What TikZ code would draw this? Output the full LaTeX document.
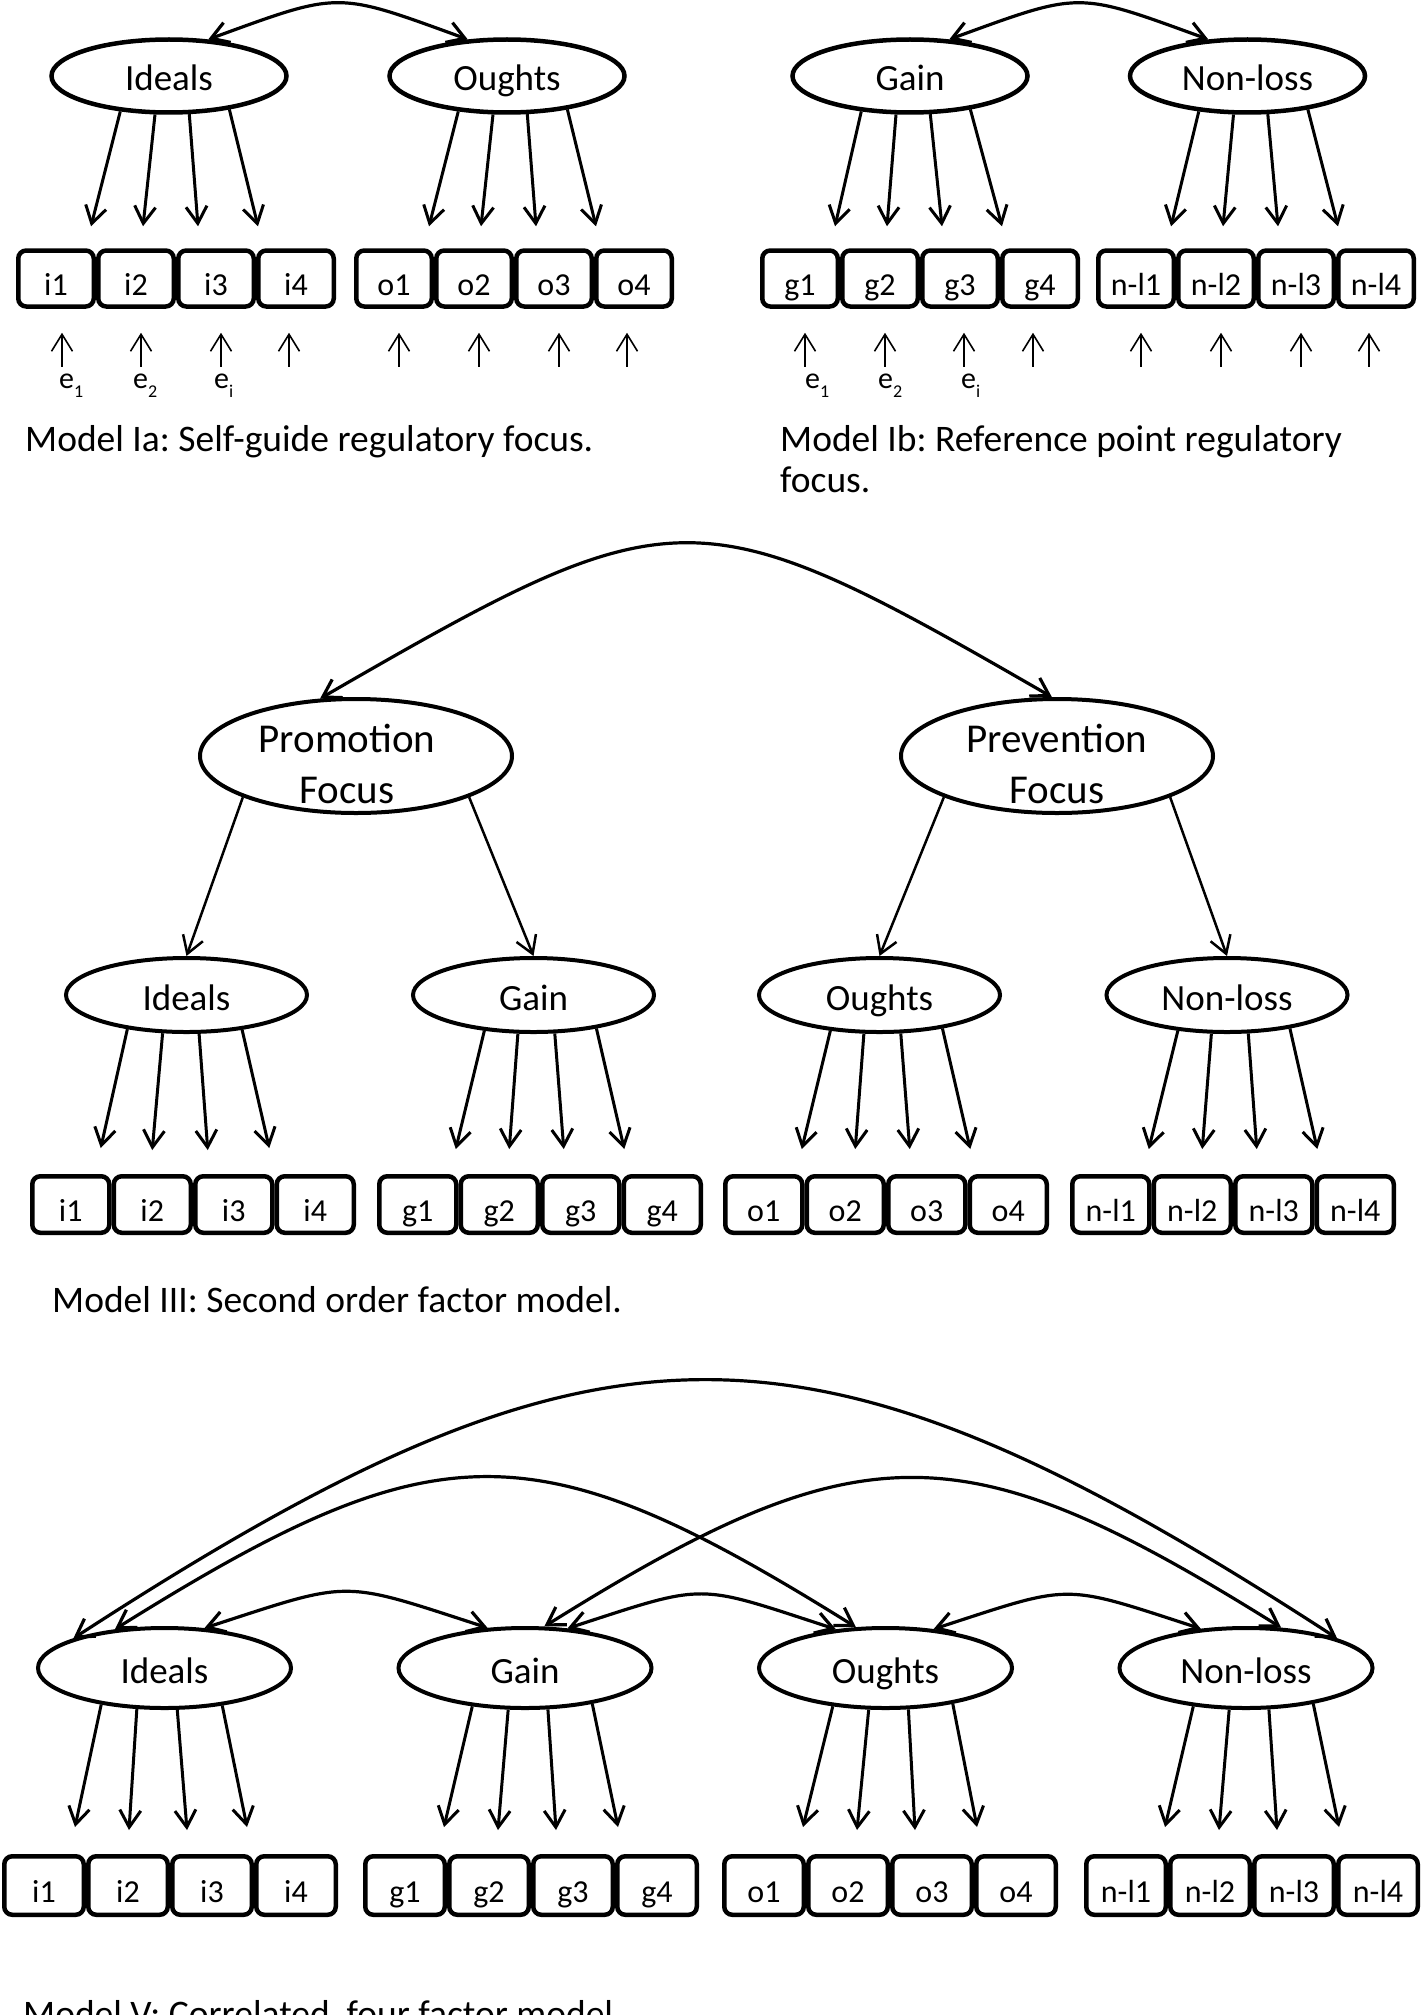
\documentclass[tikz,border=0pt]{standalone}
\usepackage{fontspec}
\setmainfont{Carlito}
\usetikzlibrary{arrows.meta, calc, positioning, shapes.geometric}
\newcommand{\facfont}{\fontsize{37}{44}\selectfont}
\newcommand{\topfont}{\fontsize{41}{51.6}\selectfont}
\newcommand{\itemfont}{\fontsize{32}{40}\selectfont}
\newcommand{\capfont}{\fontsize{37.5}{41}\selectfont}
\newcommand{\errfont}{\fontsize{30}{36}\selectfont}
\newcommand{\esub}[1]{e\raisebox{-9pt}{\fontsize{18}{20}\selectfont #1}}
\newcommand{\drawl}{\draw[load]}
\newcommand{\drawr}{\draw[err]}
\tikzset{
  fac/.style={draw, ellipse, line width=4.5pt, inner sep=0pt, font=\facfont, text height=30pt, text depth=0pt},
  facA/.style={fac, minimum width=235pt, minimum height=73pt},
  facC/.style={fac, line width=4pt, minimum width=241pt, minimum height=74pt},
  facS/.style={fac, line width=4pt, minimum width=312pt, minimum height=114pt},
  facE/.style={fac, line width=4pt, minimum width=253pt, minimum height=80pt},
  ind/.style={draw, rectangle, rounded corners=8pt, line width=4.5pt, inner sep=0pt, font=\itemfont, text height=34pt, text depth=0pt},
  indA/.style={ind, minimum width=75.5pt, minimum height=56pt},
  indC/.style={ind, minimum width=77pt, minimum height=56.5pt},
  indE/.style={ind, minimum width=79.5pt, minimum height=58.5pt},
  load/.style={->, line width=3pt},
  load2/.style={->, line width=2.5pt},
  corr/.style={<->, line width=3.2pt},
  err/.style={->, line width=1.6pt},
  capt/.style={font=\capfont, anchor=base west, inner sep=0pt},
  elab/.style={font=\errfont, anchor=base west, inner sep=0pt}
}

\begin{document}
\frenchspacing
\begin{tikzpicture}[x=1pt, y=-1pt, >={Straight Barb[length=17pt,width=21pt]}]
\clip (0,0) rectangle (1423,2015);

%Model Ia
\node[facA] (aI) at (169,76) {Ideals};
\node[facA] (aO) at (507,76) {Oughts};
\draw[corr] (aI.43) to[out=20, in=160, looseness=1.4] (aO.137);
\node[indA] (ai1) at (56,278.5) {i1};
\node[indA, right=0pt of ai1] (ai2) {i2};
\node[indA, right=0pt of ai2] (ai3) {i3};
\node[indA, right=0pt of ai3] (ai4) {i4};
\node[indA] (ao1) at (394,278.5) {o1};
\node[indA, right=0pt of ao1] (ao2) {o2};
\node[indA, right=0pt of ao2] (ao3) {o3};
\node[indA, right=0pt of ao3] (ao4) {o4};
\drawl (aI.216) -- ($(ai1.north)+(35,-22)$);
\drawl (aI.250) -- ($(ai2.north)+(7,-22)$);
\drawl (aI.298) -- ($(ai3.north)+(-18,-22)$);
\drawl (aI.331) -- ($(ai4.north)+(-38,-22)$);
\drawl (aO.216) -- ($(ao1.north)+(35,-22)$);
\drawl (aO.250) -- ($(ao2.north)+(7,-22)$);
\drawl (aO.298) -- ($(ao3.north)+(-18,-22)$);
\drawl (aO.331) -- ($(ao4.north)+(-38,-22)$);
% error terms
\drawr ($(ai1.south)+(6,58)$) -- ($(ai1.south)+(6,24)$);
\drawr ($(ai2.south)+(5,58)$) -- ($(ai2.south)+(5,24)$);
\drawr ($(ai3.south)+(5,58)$) -- ($(ai3.south)+(5,24)$);
\drawr ($(ai4.south)+(-7,58)$) -- ($(ai4.south)+(-7,24)$);
\drawr ($(ao1.south)+(5,58)$) -- ($(ao1.south)+(5,24)$);
\drawr ($(ao2.south)+(5,58)$) -- ($(ao2.south)+(5,24)$);
\drawr ($(ao3.south)+(5,58)$) -- ($(ao3.south)+(5,24)$);
\drawr ($(ao4.south)+(-7,58)$) -- ($(ao4.south)+(-7,24)$);
\node[elab] (ae1) at ($(ai1.south)+(3,80)$) {\esub{1}};
\node[elab] (ae2) at ($(ai2.south)+(-3,80)$) {\esub{2}};
\node[elab] (aei) at ($(ai3.south)+(-2,80)$) {\esub{i}};
\node[capt] (capa) at (25,451.5) {Model Ia: Self-guide regulatory focus.};

%Model Ib
\node[facA] (bG) at (910,76) {Gain};
\node[facA] (bN) at (1247.5,76) {Non-loss};
\draw[corr] (bG.43) to[out=20, in=160, looseness=1.4] (bN.137);
\node[indA] (bg1) at (800,278.5) {g1};
\node[indA, right=0pt of bg1] (bg2) {g2};
\node[indA, right=0pt of bg2] (bg3) {g3};
\node[indA, right=0pt of bg3] (bg4) {g4};
\node[indA] (bn1) at (1136,278.5) {n-l1};
\node[indA, right=0pt of bn1] (bn2) {n-l2};
\node[indA, right=0pt of bn2] (bn3) {n-l3};
\node[indA, right=0pt of bn3] (bn4) {n-l4};
\drawl (bG.216) -- ($(bg1.north)+(35,-22)$);
\drawl (bG.250) -- ($(bg2.north)+(7,-22)$);
\drawl (bG.298) -- ($(bg3.north)+(-18,-22)$);
\drawl (bG.331) -- ($(bg4.north)+(-38,-22)$);
\drawl (bN.216) -- ($(bn1.north)+(35,-22)$);
\drawl (bN.250) -- ($(bn2.north)+(7,-22)$);
\drawl (bN.298) -- ($(bn3.north)+(-18,-22)$);
\drawl (bN.331) -- ($(bn4.north)+(-38,-22)$);
% error terms
\drawr ($(bg1.south)+(5,58)$) -- ($(bg1.south)+(5,24)$);
\drawr ($(bg2.south)+(5,58)$) -- ($(bg2.south)+(5,24)$);
\drawr ($(bg3.south)+(4,58)$) -- ($(bg3.south)+(4,24)$);
\drawr ($(bg4.south)+(-7,58)$) -- ($(bg4.south)+(-7,24)$);
\drawr ($(bn1.south)+(5,58)$) -- ($(bn1.south)+(5,24)$);
\drawr ($(bn2.south)+(5,58)$) -- ($(bn2.south)+(5,24)$);
\drawr ($(bn3.south)+(5,58)$) -- ($(bn3.south)+(5,24)$);
\drawr ($(bn4.south)+(-7,58)$) -- ($(bn4.south)+(-7,24)$);
\node[elab] (be1) at ($(bg1.south)+(5,80)$) {\esub{1}};
\node[elab] (be2) at ($(bg2.south)+(-2,80)$) {\esub{2}};
\node[elab] (bei) at ($(bg3.south)+(1,80)$) {\esub{i}};
\node[capt, align=left] (capb) at (780,492) {Model Ib: Reference point regulatory\\focus.};

%Model III
\node[facS, label={[font=\topfont, align=center, xshift=-9pt, yshift=-8pt]center:Promotion\\Focus}] (cP) at (356,756) {};
\node[facS, label={[font=\topfont, align=center, yshift=-8pt]center:Prevention\\Focus}] (cV) at (1057,756) {};
\draw[corr] (cP.122) .. controls +(-30:412) and +(-150:412) .. (cV.95);
\node[facC] (cI) at (186.5,995) {Ideals};
\node[facC] (cG) at (533.5,995) {Gain};
\node[facC] (cO) at (879.5,995) {Oughts};
\node[facC] (cN) at (1227,995) {Non-loss};
\draw[load2] (cP.200) -- (cI.north);
\draw[load2] (cP.340) -- (cG.north);
\draw[load2] (cV.200) -- (cO.north);
\draw[load2] (cV.340) -- (cN.north);
\node[indC] (ci1) at (70.75,1204.5) {i1};
\node[indC, right=0pt of ci1] (ci2) {i2};
\node[indC, right=0pt of ci2] (ci3) {i3};
\node[indC, right=0pt of ci3] (ci4) {i4};
\node[indC] (cg1) at (417.75,1204.5) {g1};
\node[indC, right=0pt of cg1] (cg2) {g2};
\node[indC, right=0pt of cg2] (cg3) {g3};
\node[indC, right=0pt of cg3] (cg4) {g4};
\node[indC] (co1) at (763.75,1204.5) {o1};
\node[indC, right=0pt of co1] (co2) {o2};
\node[indC, right=0pt of co2] (co3) {o3};
\node[indC, right=0pt of co3] (co4) {o4};
\node[indC] (cn1) at (1110.75,1204.5) {n-l1};
\node[indC, right=0pt of cn1] (cn2) {n-l2};
\node[indC, right=0pt of cn2] (cn3) {n-l3};
\node[indC, right=0pt of cn3] (cn4) {n-l4};
\drawl (cI.210) -- ($(ci1.north)+(30,-26)$);
\drawl (cI.238) -- ($(ci2.north)+(0,-24)$);
\drawl (cI.288) -- ($(ci3.north)+(-26,-24)$);
\drawl (cI.328) -- ($(ci4.north)+(-46,-26)$);
\drawl (cG.216) -- ($(cg1.north)+(38,-25)$);
\drawl (cG.248) -- ($(cg2.north)+(10,-25)$);
\drawl (cG.299) -- ($(cg3.north)+(-17,-25)$);
\drawl (cG.332) -- ($(cg4.north)+(-38,-25)$);
\drawl (cO.216) -- ($(co1.north)+(38,-25)$);
\drawl (cO.248) -- ($(co2.north)+(10,-25)$);
\drawl (cO.299) -- ($(co3.north)+(-17,-25)$);
\drawl (cO.332) -- ($(co4.north)+(-38,-25)$);
\drawl (cN.216) -- ($(cn1.north)+(38,-25)$);
\drawl (cN.248) -- ($(cn2.north)+(10,-25)$);
\drawl (cN.299) -- ($(cn3.north)+(-17,-25)$);
\drawl (cN.332) -- ($(cn4.north)+(-38,-25)$);
\node[capt] (capc) at (52,1312) {Model III: Second order factor model.};

%Model V
\node[facE] (eI) at (164.5,1668) {Ideals};
\node[facE] (eG) at (525,1668) {Gain};
\node[facE] (eO) at (885.5,1668) {Oughts};
\node[facE] (eN) at (1246,1668) {Non-loss};
\draw[corr] (eI.45) to[out=18, in=162, looseness=1.42] (eG.133);
\draw[corr] (eG.43) to[out=18, in=162, looseness=1.42] (eO.142);
\draw[corr] (eO.39) to[out=18, in=162, looseness=1.42] (eN.139);
\draw[corr] (eI.142) .. controls +(-32:380) and +(-148:380) .. (eO.126);
\draw[corr] (eG.65) .. controls +(-32:375) and +(-148:375) .. (eN.49);
\draw[corr] (eI.162) .. controls +(-33:632) and +(-147:632) .. (eN.18);
\node[indE] (ei1) at (44,1885.5) {i1};
\node[indE, right=0pt of ei1] (ei2) {i2};
\node[indE, right=0pt of ei2] (ei3) {i3};
\node[indE, right=0pt of ei3] (ei4) {i4};
\node[indE] (eg1) at (405,1885.5) {g1};
\node[indE, right=0pt of eg1] (eg2) {g2};
\node[indE, right=0pt of eg2] (eg3) {g3};
\node[indE, right=0pt of eg3] (eg4) {g4};
\node[indE] (eo1) at (764,1885.5) {o1};
\node[indE, right=0pt of eo1] (eo2) {o2};
\node[indE, right=0pt of eo2] (eo3) {o3};
\node[indE, right=0pt of eo3] (eo4) {o4};
\node[indE] (en1) at (1126,1885.5) {n-l1};
\node[indE, right=0pt of en1] (en2) {n-l2};
\node[indE, right=0pt of en2] (en3) {n-l3};
\node[indE, right=0pt of en3] (en4) {n-l4};
\drawl (eI.210) -- ($(ei1.north)+(31,-27)$);
\drawl (eI.236) -- ($(ei2.north)+(1,-24)$);
\drawl (eI.287) -- ($(ei3.north)+(-25,-24)$);
\drawl (eI.327) -- ($(ei4.north)+(-49,-27)$);
\drawl (eG.216) -- ($(eg1.north)+(39,-27)$);
\drawl (eG.248) -- ($(eg2.north)+(9,-24)$);
\drawl (eG.299) -- ($(eg3.north)+(-17,-24)$);
\drawl (eG.332) -- ($(eg4.north)+(-39,-27)$);
\drawl (eO.216) -- ($(eo1.north)+(39,-27)$);
\drawl (eO.248) -- ($(eo2.north)+(9,-24)$);
\drawl (eO.299) -- ($(eo3.north)+(-17,-24)$);
\drawl (eO.332) -- ($(eo4.north)+(-39,-27)$);
\drawl (eN.216) -- ($(en1.north)+(39,-27)$);
\drawl (eN.248) -- ($(en2.north)+(9,-24)$);
\drawl (eN.299) -- ($(en3.north)+(-17,-24)$);
\drawl (eN.332) -- ($(en4.north)+(-39,-27)$);
\node[capt] (cape) at (23,2026) {Model V: Correlated~ four factor model.};
\end{tikzpicture}
\end{document}
